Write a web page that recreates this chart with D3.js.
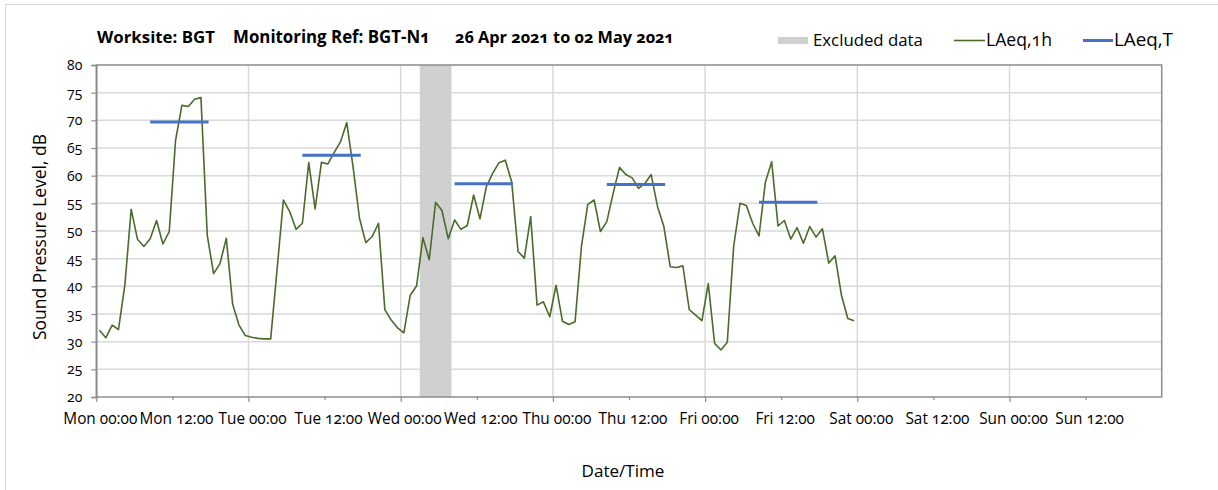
<!DOCTYPE html>
<html>
<head>
<meta charset="utf-8">
<script src="https://cdn.jsdelivr.net/npm/d3@7"></script>
<style>
  body { margin: 0; background: #fff; }
  text { font-family: "Open Sans", sans-serif; font-variant-numeric: oldstyle-nums; fill: #000; }
</style>
</head>
<body>
<svg id="chart" width="1218" height="490"></svg>
<script>
// hourly LAeq,1h per day (values plotted at the middle of each hour)
var dayNames = ["Mon", "Tue", "Wed", "Thu", "Fri"];
var laeqMon = [32.05, 30.7, 33.0, 32.2, 40.2, 53.9, 48.5, 47.2, 48.6, 51.9, 47.65, 49.9,
               66.4, 72.7, 72.5, 73.8, 74.1, 49.2, 42.3, 44.1, 48.7, 36.75, 33.0, 31.1];
var laeqTue = [30.8, 30.6, 30.5, 30.5, 43.0, 55.6, 53.5, 50.3, 51.4, 62.35, 54.0, 62.4,
               62.1, 64.15, 66.1, 69.6, 61.5, 52.3, 47.9, 49.0, 51.4, 35.8, 33.9, 32.5];
var laeqWed = [31.6, 38.4, 40.05, 48.8, 44.8, 55.2, 53.7, 48.6, 52.0, 50.3, 51.0, 56.5,
               52.2, 58.0, 60.4, 62.35, 62.8, 58.9, 46.3, 45.1, 52.6, 36.6, 37.2, 34.5];
var laeqThu = [40.2, 33.7, 33.1, 33.6, 47.2, 54.8, 55.6, 49.9, 51.7, 56.8, 61.5, 60.2,
               59.6, 57.7, 58.6, 60.2, 54.4, 50.8, 43.55, 43.4, 43.7, 35.8, 34.8, 33.8];
var laeqFri = [40.5, 29.7, 28.5, 29.9, 47.2, 55.0, 54.6, 51.4, 49.1, 58.8, 62.5, 50.9,
               51.9, 48.55, 50.6, 47.8, 50.8, 48.9, 50.4, 44.2, 45.5, 38.4, 34.2, 33.8];

// LAeq,T for the daytime period of each day
var laeqT = [69.7, 63.7, 58.55, 58.4, 55.2];
var periodHours = [8.5, 17.7];

// excluded data, hours from Mon 00:00
var excludedHours = [51, 56];

var yTicks = [20, 25, 30, 35, 40, 45, 50, 55, 60, 65, 70, 75, 80];
var titleParts = ["Worksite: BGT", "Monitoring Ref: BGT-N1", "26 Apr 2021 to 02 May 2021"];
var legendLabels = ["Excluded data", "LAeq,1h", "LAeq,T"];

var start = new Date(Date.UTC(2021, 3, 26, 0, 0));
var HOUR = 3600 * 1000;
function at(h) { return new Date(start.getTime() + h * HOUR); }

var hourly = [laeqMon, laeqTue, laeqWed, laeqThu, laeqFri];
var series = [];
hourly.forEach(function(day, d) {
  day.forEach(function(v, h) {
    series.push({ t: at(d * 24 + h + 0.5), v: v });
  });
});

var svg = d3.select("#chart");
var pLeft = 96.3, pRight = 1161.7, pTop = 65, pBottom = 397;

var x = d3.scaleUtc().domain([start, at(7 * 24)]).range([pLeft, pRight]);
var y = d3.scaleLinear().domain([20, 80]).range([pBottom, pTop]);

// scale a text so that it spans the given width
function fit(sel, w) {
  var l = sel.node().getComputedTextLength();
  var fs = parseFloat(sel.style("font-size"));
  sel.style("font-size", (fs * w / l) + "px");
  return sel;
}

// outer chart border
svg.append("rect")
  .attr("x", 5.5).attr("y", 4.5).attr("width", 1400).attr("height", 600)
  .attr("fill", "none").attr("stroke", "#d9d9d9").attr("stroke-width", 1);

// gridlines
svg.append("g").selectAll("line").data(yTicks.slice(1, -1)).enter().append("line")
  .attr("x1", pLeft).attr("x2", pRight)
  .attr("y1", function(d) { return y(d); }).attr("y2", function(d) { return y(d); })
  .attr("stroke", "#d9d9d9").attr("stroke-width", 1.5);

var dayTicks = d3.utcDay.range(at(24), at(7 * 24));
svg.append("g").selectAll("line").data(dayTicks).enter().append("line")
  .attr("x1", function(d) { return x(d); }).attr("x2", function(d) { return x(d); })
  .attr("y1", pTop).attr("y2", pBottom)
  .attr("stroke", "#d9d9d9").attr("stroke-width", 1.5);

// excluded band
svg.append("rect")
  .attr("x", x(at(excludedHours[0])))
  .attr("width", x(at(excludedHours[1])) - x(at(excludedHours[0])))
  .attr("y", pTop).attr("height", pBottom - pTop)
  .attr("fill", "#d0d0d0");

// frame
svg.append("rect")
  .attr("x", pLeft).attr("y", pTop).attr("width", pRight - pLeft).attr("height", pBottom - pTop)
  .attr("fill", "none").attr("stroke", "#8c8c8c").attr("stroke-width", 1.5);

// y axis
var yAxis = svg.append("g")
  .attr("transform", "translate(" + pLeft + ",0)")
  .call(d3.axisLeft(y).tickValues(yTicks).tickSize(5).tickPadding(9));
yAxis.select(".domain").attr("stroke", "#8c8c8c").attr("stroke-width", 1.5);
yAxis.selectAll(".tick line").attr("stroke", "#8c8c8c").attr("stroke-width", 1.2);
yAxis.selectAll(".tick text").style("font-size", "14px").attr("font-family", null);

// x axis
var xTicks = d3.utcHour.every(12).range(start, at(7 * 24));
var xAxis = svg.append("g")
  .attr("transform", "translate(0," + pBottom + ")")
  .call(d3.axisBottom(x).tickValues(xTicks).tickSize(4).tickPadding(12)
    .tickFormat(d3.utcFormat("%a %H:%M")));
xAxis.select(".domain").remove();
xAxis.selectAll(".tick line")
  .attr("stroke", "#8c8c8c").attr("stroke-width", 1.2)
  .attr("y2", function(d) { return d.getUTCHours() === 0 ? 5 : 3; });
xAxis.selectAll(".tick text").attr("font-family", null).attr("dx", 3.5)
  .style("font-size", "14px");
var xl = xAxis.select(".tick text");
var fsX = parseFloat(fit(xl, 74).style("font-size"));
xAxis.selectAll(".tick text").style("font-size", fsX + "px");

// LAeq,1h line
var line = d3.line()
  .x(function(d) { return x(d.t); })
  .y(function(d) { return y(d.v); });
svg.append("path").datum(series)
  .attr("d", line)
  .attr("fill", "none").attr("stroke", "#4a6b2a").attr("stroke-width", 1.6)
  .attr("stroke-linejoin", "round");

// LAeq,T lines
svg.append("g").selectAll("line").data(laeqT).enter().append("line")
  .attr("x1", function(d, i) { return x(at(i * 24 + periodHours[0])); })
  .attr("x2", function(d, i) { return x(at(i * 24 + periodHours[1])); })
  .attr("y1", function(d) { return y(d); }).attr("y2", function(d) { return y(d); })
  .attr("stroke", "#4472c4").attr("stroke-width", 3);

// title
var titleX = [97, 233, 455];
var titleW = [118, 197, 219];
titleParts.forEach(function(t, i) {
  var tt = svg.append("text").attr("x", titleX[i]).attr("y", 42.5)
    .attr("font-weight", "bold").style("font-size", "15px").text(t);
  fit(tt, titleW[i]);
});

// legend
svg.append("rect").attr("x", 778).attr("y", 37).attr("width", 30).attr("height", 7)
  .attr("fill", "#d0d0d0");
svg.append("line").attr("x1", 954).attr("x2", 985).attr("y1", 40.5).attr("y2", 40.5)
  .attr("stroke", "#4a6b2a").attr("stroke-width", 1.6);
svg.append("line").attr("x1", 1083).attr("x2", 1113).attr("y1", 40.5).attr("y2", 40.5)
  .attr("stroke", "#4472c4").attr("stroke-width", 3);
var legX = [813, 986, 1114];
var legW = [110, 66, 59];
legendLabels.forEach(function(t, i) {
  var lt = svg.append("text").attr("x", legX[i]).attr("y", 45.5)
    .style("font-size", "16px").text(t);
  fit(lt, legW[i]);
});

// axis titles
var yt = svg.append("text")
  .attr("transform", "translate(46,237) rotate(-90)")
  .attr("text-anchor", "middle").style("font-size", "18px")
  .text("Sound Pressure Level, dB");
fit(yt, 206);

var xt = svg.append("text").attr("x", 623).attr("y", 476.5)
  .attr("text-anchor", "middle").style("font-size", "16px").text("Date/Time");
fit(xt, 83);
</script>
</body>
</html>
